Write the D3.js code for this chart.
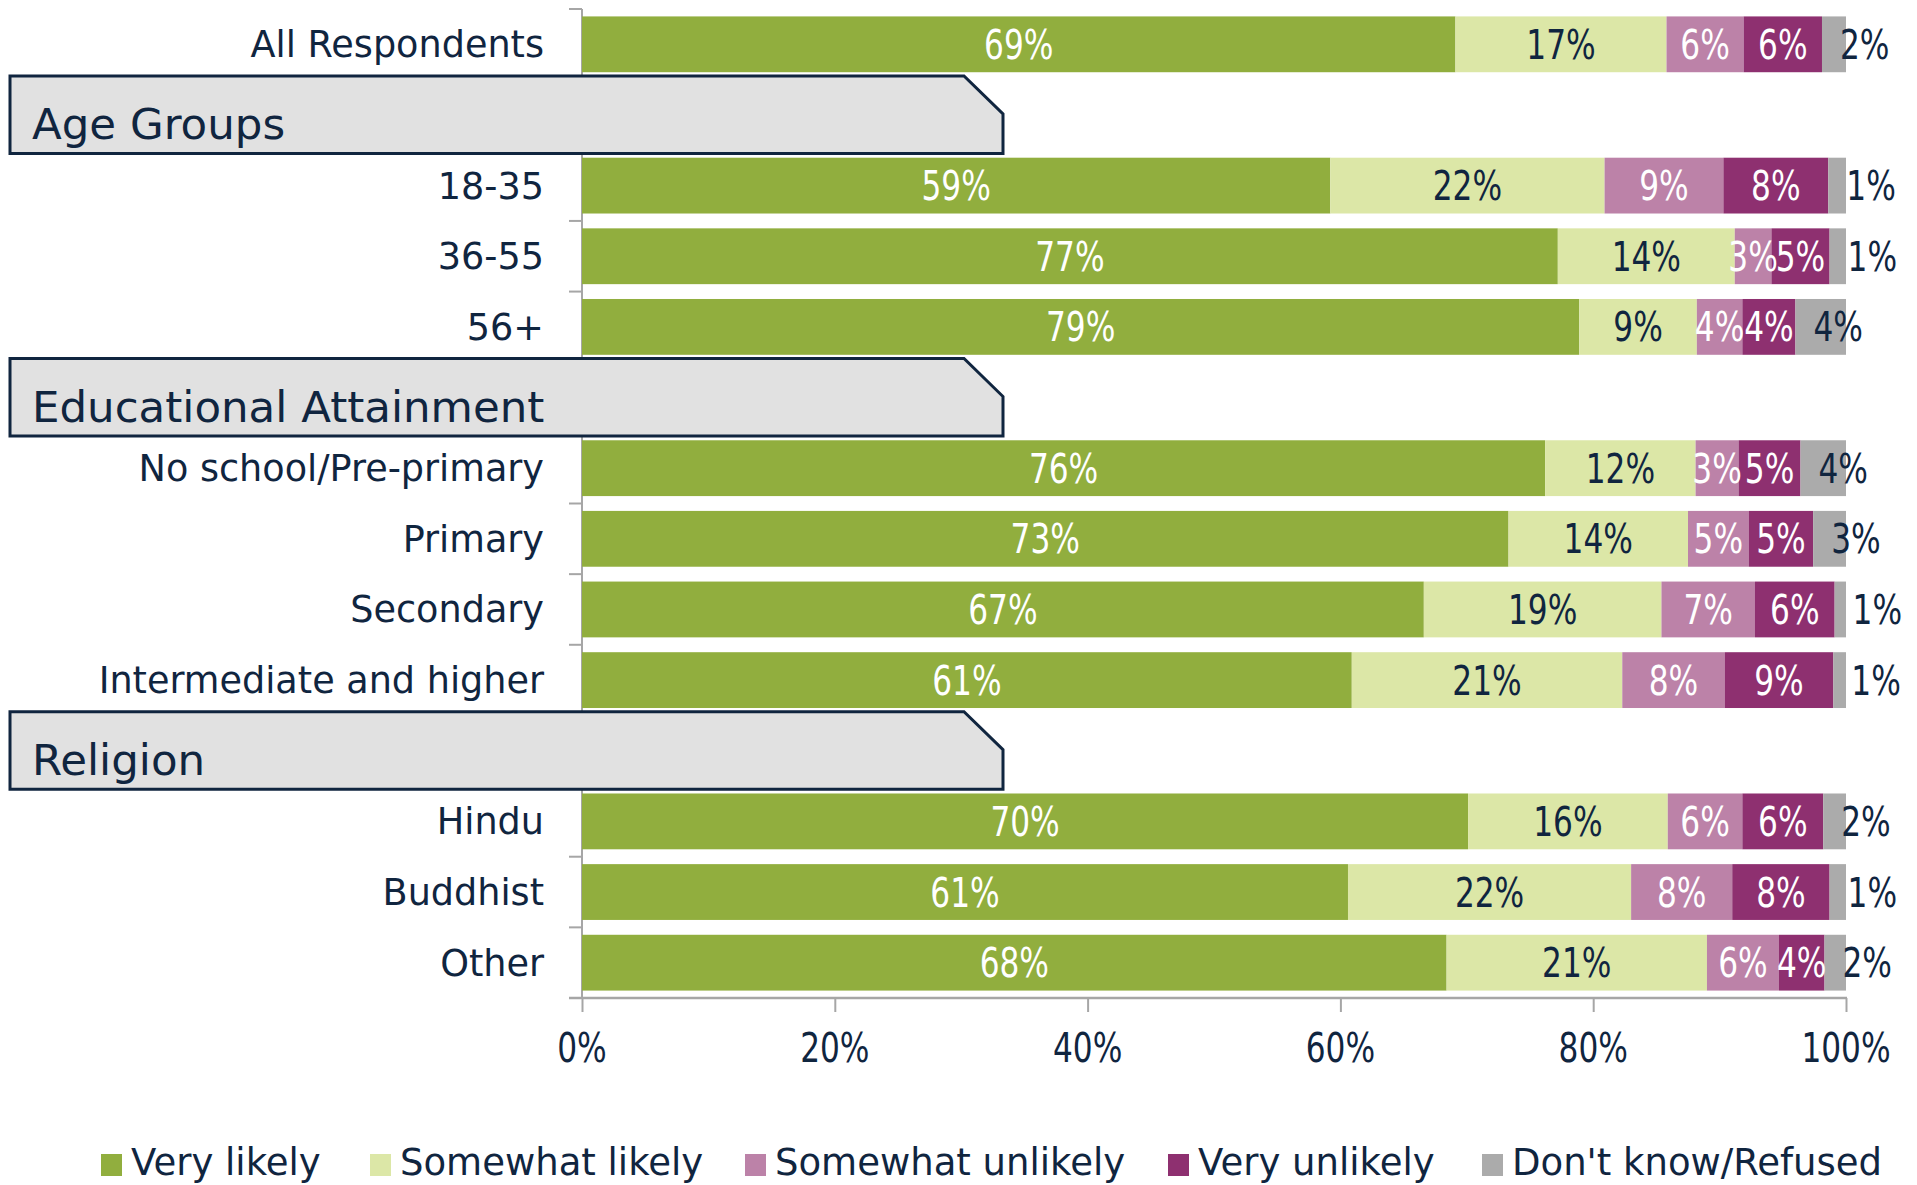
<!DOCTYPE html>
<html>
<head>
<meta charset="utf-8">
<script src="https://cdn.jsdelivr.net/npm/d3@7"></script>
<style>
  html, body { margin: 0; padding: 0; background: #ffffff; }
  svg { display: block; }
  text { font-family: "DejaVu Sans", sans-serif; }
</style>
</head>
<body>
<svg id="chart" width="1917" height="1185"></svg>
<script>
// ---------------- DATA ----------------
const rowOrder = ["All Respondents", "Age Groups", "18-35", "36-55", "56+",
  "Educational Attainment", "No school/Pre-primary", "Primary", "Secondary", "Intermediate and higher",
  "Religion", "Hindu", "Buddhist", "Other"];
const sectionHeaders = ["Age Groups", "Educational Attainment", "Religion"];
const categories = ["All Respondents", "18-35", "36-55", "56+", "No school/Pre-primary", "Primary",
  "Secondary", "Intermediate and higher", "Hindu", "Buddhist", "Other"];
const seriesNames = ["Very likely", "Somewhat likely", "Somewhat unlikely", "Very unlikely", "Don't know/Refused"];
const veryLikely       = [69.1, 59.2, 77.2, 78.9, 76.2, 73.3, 66.6, 60.9, 70.1, 60.6, 68.4];
const somewhatLikely   = [16.7, 21.7, 14.0,  9.3, 11.9, 14.2, 18.8, 21.4, 15.8, 22.4, 20.6];
const somewhatUnlikely = [ 6.1,  9.4,  2.9,  3.6,  3.4,  4.8,  7.4,  8.1,  5.9,  8.0,  5.7];
const veryUnlikely     = [ 6.2,  8.3,  4.6,  4.2,  4.9,  5.1,  6.3,  8.6,  6.4,  7.7,  3.6];
const dontKnow         = [ 1.9,  1.4,  1.3,  4.0,  3.6,  2.6,  0.9,  1.0,  1.8,  1.3,  1.7];
const tickValues = [0, 20, 40, 60, 80, 100];
const tickLabels = ["0%", "20%", "40%", "60%", "80%", "100%"];

// ---------------- STYLE ----------------
const colors = ["#91AE3E", "#DCE7A7", "#BC82A8", "#8E3070", "#ABABAB"];
const labelColors = ["#ffffff", "#10253F", "#ffffff", "#ffffff", "#10253F"];
const navy = "#10253F";
const axisGray = "#A6A6A6";
const numStretch = 0.78;

const series = [veryLikely, somewhatLikely, somewhatUnlikely, veryUnlikely, dontKnow];
const rows = categories.map((c, i) => {
  const o = { category: c };
  seriesNames.forEach((s, k) => o[s] = series[k][i]);
  return o;
});
const stacked = d3.stack().keys(seriesNames)(rows);

const svg = d3.select("#chart");
const x = d3.scaleLinear().domain([0, 100]).range([582, 1846]);
const y = d3.scaleBand().domain(rowOrder).range([9, 998]).paddingInner(0.21).paddingOuter(0.105);
const step = y.step();

// axis lines
const axG = svg.append("g");
d3.range(rowOrder.length + 1).forEach(k => {
  const yy = 9 + k * step;
  axG.append("line").attr("x1", 569).attr("x2", 582).attr("y1", yy).attr("y2", yy)
    .attr("stroke", axisGray).attr("stroke-width", 2);
});
axG.append("line").attr("x1", 582).attr("x2", 582).attr("y1", 9).attr("y2", 998)
  .attr("stroke", axisGray).attr("stroke-width", 2);

// bars
const barG = svg.append("g");
stacked.forEach((layer, k) => {
  barG.selectAll(null).data(layer).enter().append("rect")
    .attr("x", d => x(d[0]))
    .attr("y", d => y(d.data.category))
    .attr("width", d => x(d[1]) - x(d[0]))
    .attr("height", y.bandwidth())
    .attr("fill", colors[k]);
});

// x axis
const xAxis = d3.axisBottom(x).tickValues(tickValues).tickSize(14).tickFormat((d, i) => tickLabels[i]);
const xg = svg.append("g").attr("transform", "translate(0,998)").call(xAxis);
xg.select(".domain").remove();
xg.selectAll(".tick line").attr("stroke", axisGray).attr("stroke-width", 2);
xg.selectAll(".tick text").remove();
svg.append("line").attr("x1", 569).attr("x2", 1847).attr("y1", 998).attr("y2", 998)
  .attr("stroke", axisGray).attr("stroke-width", 2.5);
tickValues.forEach((v, i) => {
  svg.append("g").attr("transform", `translate(${x(v)},${1062})`)
    .append("text").attr("transform", `scale(${numStretch},1)`)
    .attr("text-anchor", "middle").attr("font-size", 40).attr("fill", navy).text(tickLabels[i]);
});

// data labels
const fsLab = 40;
stacked.forEach((layer, k) => {
  layer.forEach(d => {
    const cy = y(d.data.category) + y.bandwidth() / 2;
    const last = k === seriesNames.length - 1;
    const lx = last ? x(d[0]) + 18 : (x(d[0]) + x(d[1])) / 2;
    svg.append("g").attr("transform", `translate(${lx},${cy + fsLab * 0.365})`)
      .append("text").attr("transform", `scale(${numStretch},1)`)
      .attr("text-anchor", last ? "start" : "middle")
      .attr("font-size", fsLab).attr("fill", labelColors[k])
      .text(Math.round(d[1] - d[0]) + "%");
  });
});

// category labels
categories.forEach(c => {
  svg.append("text").attr("x", 544).attr("y", y(c) + y.bandwidth() / 2 + 13)
    .attr("text-anchor", "end").attr("font-size", 36.6).attr("fill", navy).text(c);
});

// section header boxes
sectionHeaders.forEach(h => {
  const c = y(h) + y.bandwidth() / 2;
  const top = c - 39, bot = c + 38.5;
  const path = `M10,${top} L964,${top} L1003,${top + 38} L1003,${bot} L10,${bot} Z`;
  svg.append("path").attr("d", path).attr("fill", "#E1E1E1")
    .attr("stroke", navy).attr("stroke-width", 3).attr("stroke-linejoin", "miter");
  svg.append("text").attr("x", 32).attr("y", c + 24).attr("font-size", 43.5)
    .attr("fill", navy).text(h);
});

// legend
const legendX = [101, 370, 745, 1168, 1482];
seriesNames.forEach((s, k) => {
  svg.append("rect").attr("x", legendX[k]).attr("y", 1154).attr("width", 21).attr("height", 22)
    .attr("fill", colors[k]);
  svg.append("text").attr("x", legendX[k] + 30).attr("y", 1175).attr("font-size", 37)
    .attr("fill", navy).text(s);
});
</script>
</body>
</html>
